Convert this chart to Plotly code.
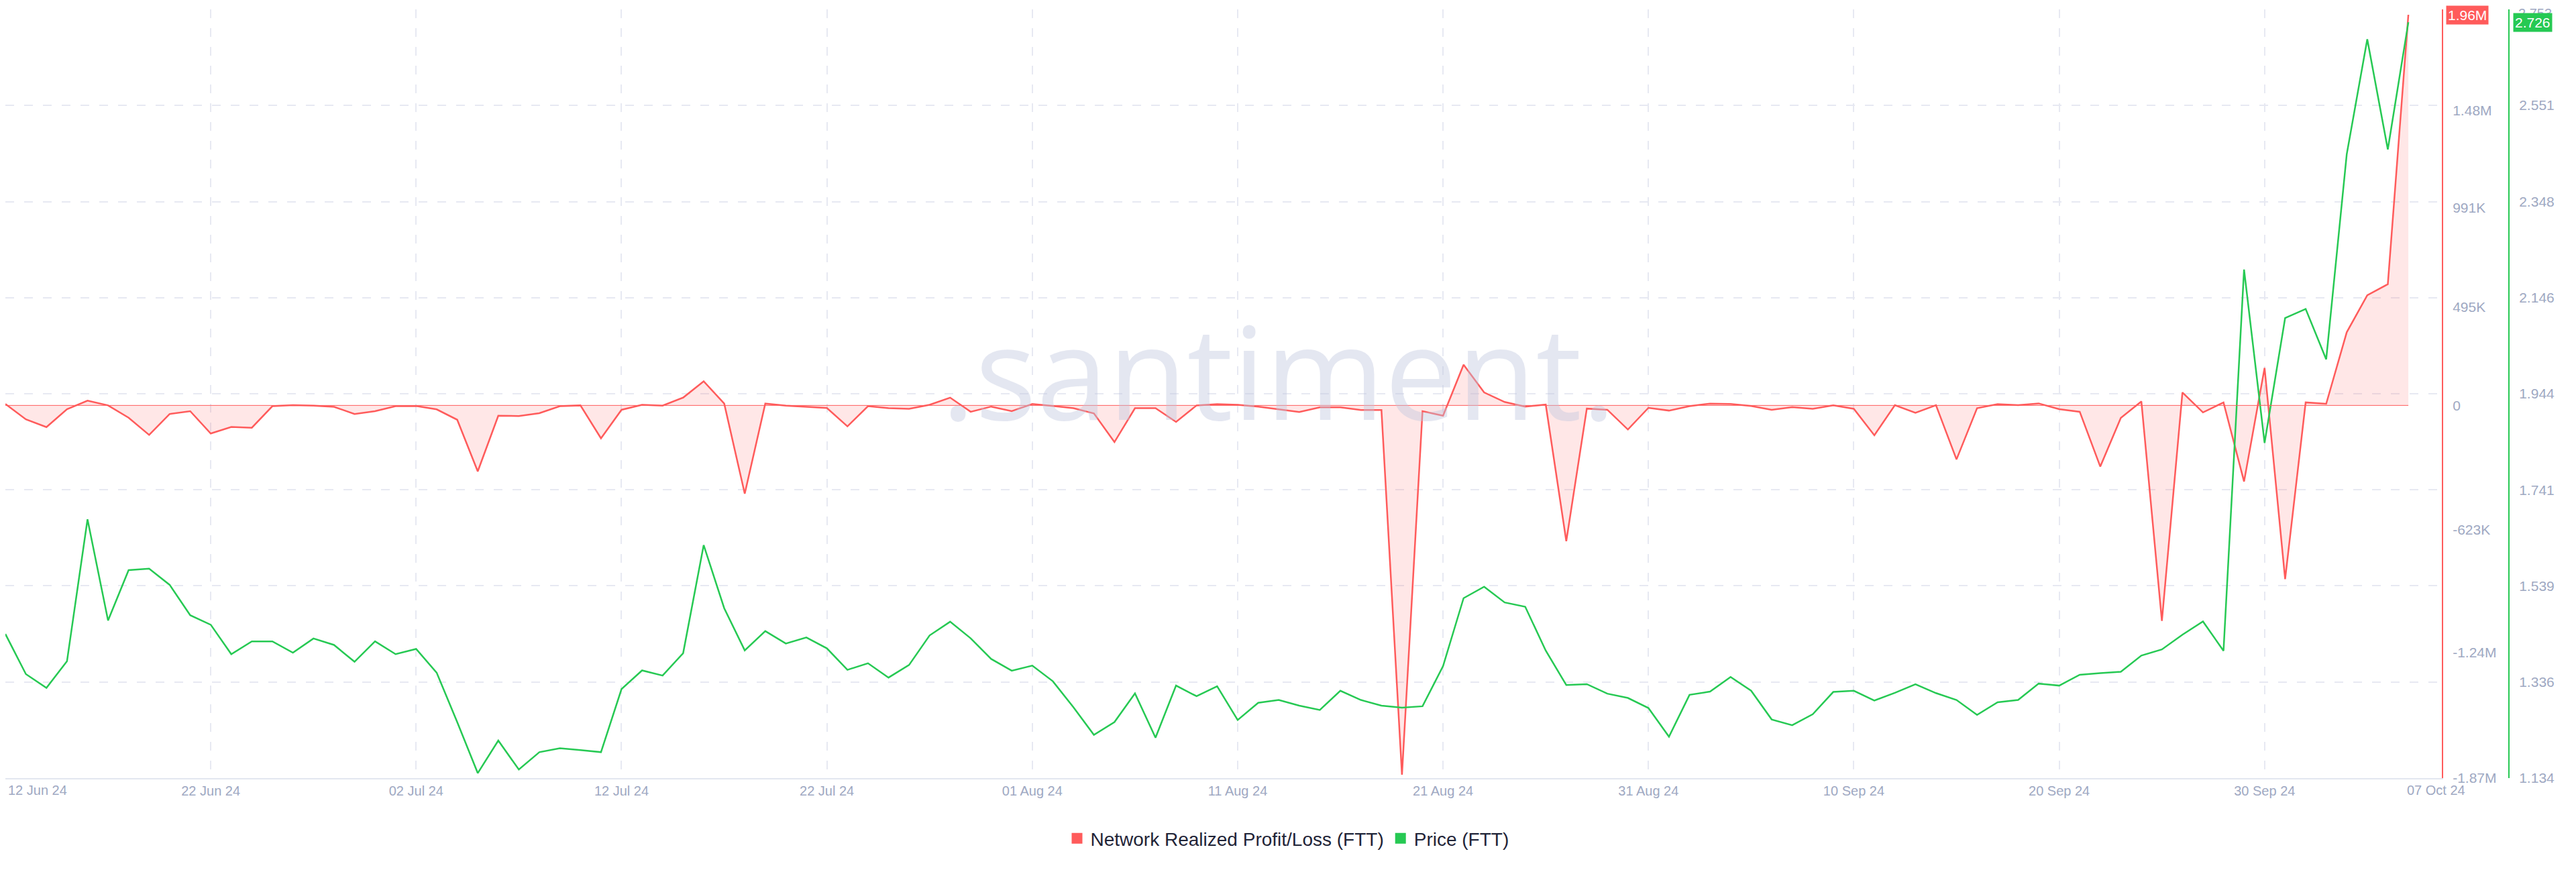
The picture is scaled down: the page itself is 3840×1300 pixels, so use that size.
import pandas as pd
import plotly.graph_objects as go

# ---------------- data ----------------
dates = pd.date_range("2024-06-12", periods=118, freq="D")

# Network Realized Profit/Loss (FTT), in thousands
pl_k = [
    7, -70, -109, -19, 24, 0, -62, -148, -43, -29,
    -141, -108, -112, -4, 1, -1, -7, -43, -29, -4,
    -3, -20, -72, -331, -52, -53, -39, -4, 0, -165,
    -22, 3, -1, 39, 121, 9, -443, 9, -1, -6,
    -13, -105, -4, -14, -17, 3, 39, -32, -6, -29,
    7, -3, -14, -40, -184, -14, -14, -83, 0, 6,
    3, -6, -20, -33, -10, -10, -23, -23, -1853, -29,
    -52, 204, 65, 17, -6, 4, -681, -16, -22, -121,
    -12, -26, -4, 9, 7, -3, -22, -9, -17, 0,
    -17, -150, 1, -37, 1, -271, -14, 6, 1, 10,
    -19, -32, -307, -63, 20, -1081, 65, -35, 15, -382,
    188, -872, 15, 8, 367, 553, 608, 1960,
]

# Price (FTT), USD
price = [
    1.4375, 1.353, 1.324, 1.380, 1.679, 1.466, 1.572, 1.575, 1.541, 1.477,
    1.457, 1.395, 1.422, 1.422, 1.398, 1.428, 1.4145, 1.379, 1.422, 1.395,
    1.406, 1.356, 1.252, 1.1445, 1.213, 1.152, 1.1886, 1.197, 1.193, 1.1886,
    1.3215, 1.3608, 1.3499, 1.397, 1.6247, 1.4918, 1.403, 1.4435, 1.4175, 1.4302,
    1.4073, 1.362, 1.3759, 1.3457, 1.3722, 1.4345, 1.4634, 1.4284, 1.3849, 1.3602,
    1.371, 1.338, 1.2835, 1.225, 1.252, 1.3124, 1.219, 1.3288, 1.3064, 1.3275,
    1.2563, 1.2925, 1.2985, 1.2865, 1.2774, 1.3179, 1.2985, 1.2865, 1.2822, 1.2853,
    1.3698, 1.513, 1.5371, 1.5039, 1.4949, 1.4024, 1.33, 1.3318, 1.3118, 1.3028,
    1.2816, 1.2212, 1.3094, 1.3161, 1.3469, 1.318, 1.2575, 1.2454, 1.2684, 1.3155,
    1.3179, 1.2973, 1.3137, 1.3318, 1.313, 1.2985, 1.2671, 1.2937, 1.2985, 1.333,
    1.3288, 1.3517, 1.355, 1.358, 1.392, 1.405, 1.436, 1.464, 1.402, 2.205,
    1.840, 2.103, 2.122, 2.016, 2.448, 2.690, 2.458, 2.726,
]

pl = [v * 1000 for v in pl_k]

# axis ticks
x_tick_dates = pd.date_range("2024-06-12", "2024-09-30", freq="10D")
x_tick_text = [d.strftime("%d %b %y") for d in x_tick_dates]
pl_tickvals = [-1.87e6, -1.24e6, -623e3, 0, 495e3, 991e3, 1.48e6]
pl_ticktext = ["-1.87M", "-1.24M", "-623K", "0", "495K", "991K", "1.48M"]
price_tickvals = [1.134, 1.336, 1.539, 1.741, 1.944, 2.146, 2.348, 2.551, 2.753]
price_ticktext = ["1.134", "1.336", "1.539", "1.741", "1.944", "2.146", "2.348", "2.551", "2.753"]

# ---------------- style ----------------
RED = "#ff5b5b"
GREEN = "#26c953"
TICK = "#9ea8c2"
GRID = "#e7e9f2"
FONT = "Liberation Sans"
W = 3840
# the page body adds an 8px offset, so figure coords = target page coords - 8
XDOM = 3632 / W
Y2POS = 3732 / W

fig = go.Figure()

fig.add_trace(go.Scatter(
    x=dates, y=pl, mode="lines", yaxis="y",
    line=dict(color=RED, width=2.5),
    fill="tozeroy", fillcolor="rgba(255,91,91,0.15)",
    showlegend=False, hoverinfo="skip",
))
fig.add_trace(go.Scatter(
    x=dates, y=price, mode="lines", yaxis="y2",
    line=dict(color=GREEN, width=2.5),
    showlegend=False, hoverinfo="skip",
))
# legend entries (square swatches)
fig.add_trace(go.Scatter(
    x=[None], y=[None], mode="markers", yaxis="y",
    marker=dict(symbol="square", size=17, color=RED),
    name="Network Realized Profit/Loss (FTT)",
))
fig.add_trace(go.Scatter(
    x=[None], y=[None], mode="markers", yaxis="y2",
    marker=dict(symbol="square", size=17, color=GREEN),
    name="Price (FTT)",
))

# zero baseline of the P/L area
fig.add_shape(type="line", xref="x", yref="y",
              x0=dates[0], x1=dates[-1], y0=0, y1=0,
              line=dict(color=RED, width=1))

x_end = dates[0] + pd.Timedelta(hours=118.63 * 24)

fig.update_layout(
    width=W, height=1300,
    paper_bgcolor="white", plot_bgcolor="white",
    margin=dict(l=0, r=0, t=6, b=148, autoexpand=False),
    font=dict(family=FONT, size=20, color=TICK),
    xaxis=dict(
        domain=[0, XDOM], range=[dates[0], x_end],
        tickvals=x_tick_dates, ticktext=[""] + x_tick_text[1:],
        ticks="", ticklabelstandoff=0, automargin=False,
        tickfont=dict(size=20, color=TICK, family=FONT),
        showgrid=True, gridcolor=GRID, gridwidth=2, griddash="13px,15px",
        showline=True, linecolor="#e3e7f0", linewidth=2,
        zeroline=False,
    ),
    yaxis=dict(
        range=[-1.87e6, 1.987e6], side="right", anchor="x",
        tickvals=pl_tickvals, ticktext=pl_ticktext,
        ticks="", ticklabelstandoff=10, automargin=False,
        tickfont=dict(size=21, color=TICK, family=FONT),
        showgrid=False, zeroline=False,
        showline=True, linecolor=RED, linewidth=2,
    ),
    yaxis2=dict(
        range=[1.134, 2.753], side="right", overlaying="y",
        anchor="free", position=Y2POS, automargin=False,
        tickvals=price_tickvals, ticktext=price_ticktext[:-1] + [""],
        ticks="", ticklabelstandoff=10,
        tickfont=dict(size=21, color=TICK, family=FONT),
        showgrid=True, gridcolor=GRID, gridwidth=2, griddash="13px,15px",
        zeroline=False,
        showline=True, linecolor=GREEN, linewidth=2,
    ),
    legend=dict(
        orientation="h", x=1912 / W, xanchor="center",
        y=-0.0785, yanchor="middle",
        font=dict(size=28, color="#1f2437", family=FONT),
        itemsizing="trace", bgcolor="rgba(0,0,0,0)",
    ),
    showlegend=True,
)

annotations = [
    # watermark
    dict(text=".santiment.", xref="paper", yref="paper",
         x=1897 / W, y=0.531, xanchor="center", yanchor="middle",
         showarrow=False,
         font=dict(family="Open Sans", size=192, color="rgba(190,197,222,0.42)")),
    # first and last x labels
    dict(text=dates[0].strftime("%d %b %y"), xref="x", yref="paper",
         x=dates[0], y=-0.0157, xanchor="left", yanchor="middle", xshift=2,
         showarrow=False, font=dict(size=20, color=TICK, family=FONT)),
    dict(text=dates[-1].strftime("%d %b %y"), xref="x", yref="paper",
         x=dates[-1], y=-0.0157, xanchor="left", yanchor="middle", xshift=-4,
         showarrow=False, font=dict(size=20, color=TICK, family=FONT)),
    # top price tick label (partly under the last-value badge)
    dict(text=price_ticktext[-1], xref="paper", yref="y2",
         x=(3732 + 12) / W, y=price_tickvals[-1], xanchor="left", yanchor="middle",
         yshift=-6, showarrow=False, font=dict(size=20, color=TICK, family=FONT)),
    # last-value badges
    dict(text=f"{pl[-1] / 1e6:.2f}M", xref="paper", yref="y",
         x=3638 / W, y=pl[-1], xanchor="left", yanchor="middle",
         showarrow=False, bgcolor=RED, borderpad=2,
         font=dict(size=21, color="white", family=FONT)),
    dict(text=f"{price[-1]:.3f}", xref="paper", yref="y2",
         x=3738 / W, y=price[-1], xanchor="left", yanchor="middle",
         showarrow=False, bgcolor=GREEN, borderpad=2,
         font=dict(size=21, color="white", family=FONT)),
]
fig.update_layout(annotations=annotations)

fig.write_html("out.html")
